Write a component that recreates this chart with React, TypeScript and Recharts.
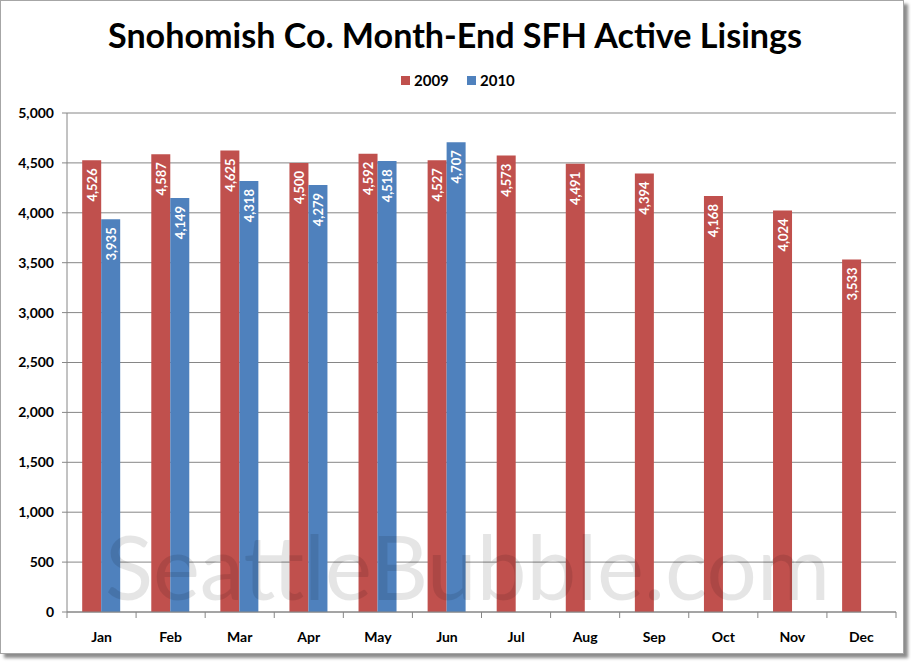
import React from "react";
import {
  BarChart,
  Bar,
  XAxis,
  YAxis,
  CartesianGrid,
  LabelList,
} from "recharts";

const months = ["Jan", "Feb", "Mar", "Apr", "May", "Jun", "Jul", "Aug", "Sep", "Oct", "Nov", "Dec"];
const listings2009 = [4526, 4587, 4625, 4500, 4592, 4527, 4573, 4491, 4394, 4168, 4024, 3533];
const listings2010: (number | null)[] = [3935, 4149, 4318, 4279, 4518, 4707, null, null, null, null, null, null];
const yTicks = [0, 500, 1000, 1500, 2000, 2500, 3000, 3500, 4000, 4500, 5000];

const RED = "#C0504D";
const BLUE = "#4F81BD";
const GRID = "#868686";
const FONT = "Lato, 'Open Sans', sans-serif";

const W = 911;
const H = 662;
const MARGIN = { top: 113, right: 15, left: 0, bottom: 20 };
const Y_WIDTH = 67;
// width of one month band, used to put tick marks between months like Excel
const BAND = (W - MARGIN.left - MARGIN.right - Y_WIDTH) / months.length;

const data = months.map((m, i) => ({
  month: m,
  y2009: listings2009[i],
  y2010: listings2010[i],
}));

const fmt = (v: number) => v.toLocaleString("en-US");

// value label rotated inside the top of each bar
function BarLabel(props: any) {
  const { x, y, width, value } = props;
  if (value == null) return null;
  const cx = x + width / 2;
  const ty = y + 8;
  return (
    <text
      x={cx}
      y={ty}
      transform={`rotate(-90 ${cx} ${ty})`}
      textAnchor="end"
      dominantBaseline="central"
      fill="#fff"
      fontFamily={FONT}
      fontWeight={700}
      fontSize={13}
    >
      {fmt(value)}
    </text>
  );
}

function MonthTick(props: any) {
  const { x, y, payload, index } = props;
  const left = x - BAND / 2;
  return (
    <g>
      <line x1={left} y1={y} x2={left} y2={y + 6} stroke={GRID} />
      {index === months.length - 1 && (
        <line x1={x + BAND / 2} y1={y} x2={x + BAND / 2} y2={y + 6} stroke={GRID} />
      )}
      <text
        x={x}
        y={y + 30}
        textAnchor="middle"
        fill="#000"
        fontFamily={FONT}
        fontWeight={700}
        fontSize={14}
      >
        {payload.value}
      </text>
    </g>
  );
}

export default function App() {
  return (
    <div style={{ position: "absolute", left: 0, top: 0, width: W, height: H, background: "#fff", overflow: "hidden" }}>
      <div
        style={{
          position: "absolute",
          left: 0,
          top: 0,
          width: 902,
          height: 652,
          border: "1px solid #a6a6a6",
          boxShadow: "4px 4px 3px rgba(0,0,0,0.45)",
          background: "#fff",
        }}
      />
      <div style={{ position: "absolute", left: 0, top: 0 }}>
        <BarChart
          width={W}
          height={H}
          data={data}
          margin={MARGIN}
          barCategoryGap="22%"
          barGap={0}
        >
          <CartesianGrid vertical={false} stroke={GRID} strokeWidth={1} />
          <XAxis
            dataKey="month"
            height={30}
            axisLine={{ stroke: GRID }}
            tickLine={false}
            tickSize={0}
            tickMargin={0}
            interval={0}
            tick={<MonthTick />}
          />
          <YAxis
            width={Y_WIDTH}
            domain={[0, 5000]}
            ticks={yTicks}
            tickFormatter={fmt}
            axisLine={{ stroke: GRID }}
            tickLine={{ stroke: GRID }}
            tickSize={5}
            tickMargin={8}
            tick={{ fill: "#000", fontFamily: FONT, fontWeight: 700, fontSize: 14 }}
          />
          <Bar dataKey="y2009" fill={RED} isAnimationActive={false}>
            <LabelList dataKey="y2009" content={BarLabel} />
          </Bar>
          <Bar dataKey="y2010" fill={BLUE} isAnimationActive={false}>
            <LabelList dataKey="y2010" content={BarLabel} />
          </Bar>
        </BarChart>
      </div>
      <svg width={W} height={H} style={{ position: "absolute", left: 0, top: 0, pointerEvents: "none" }}>
        <text
          x={455}
          y={48}
          textAnchor="middle"
          fontFamily={FONT}
          fontWeight={700}
          fontSize={34}
          textLength={694}
          lengthAdjust="spacingAndGlyphs"
          fill="#000"
        >
          Snohomish Co. Month-End SFH Active Lisings
        </text>
        <rect x={401} y={76} width={9} height={9} fill={RED} />
        <text x={414} y={86} fontFamily={FONT} fontWeight={700} fontSize={15} fill="#000">
          2009
        </text>
        <rect x={467} y={76} width={9} height={9} fill={BLUE} />
        <text x={480} y={86} fontFamily={FONT} fontWeight={700} fontSize={15} fill="#000">
          2010
        </text>
        <text
          x={105}
          y={600}
          fontFamily={FONT}
          fontSize={90}
          textLength={725}
          lengthAdjust="spacingAndGlyphs"
          fill="rgba(0,0,0,0.1)"
        >
          SeattleBubble.com
        </text>
      </svg>
    </div>
  );
}
